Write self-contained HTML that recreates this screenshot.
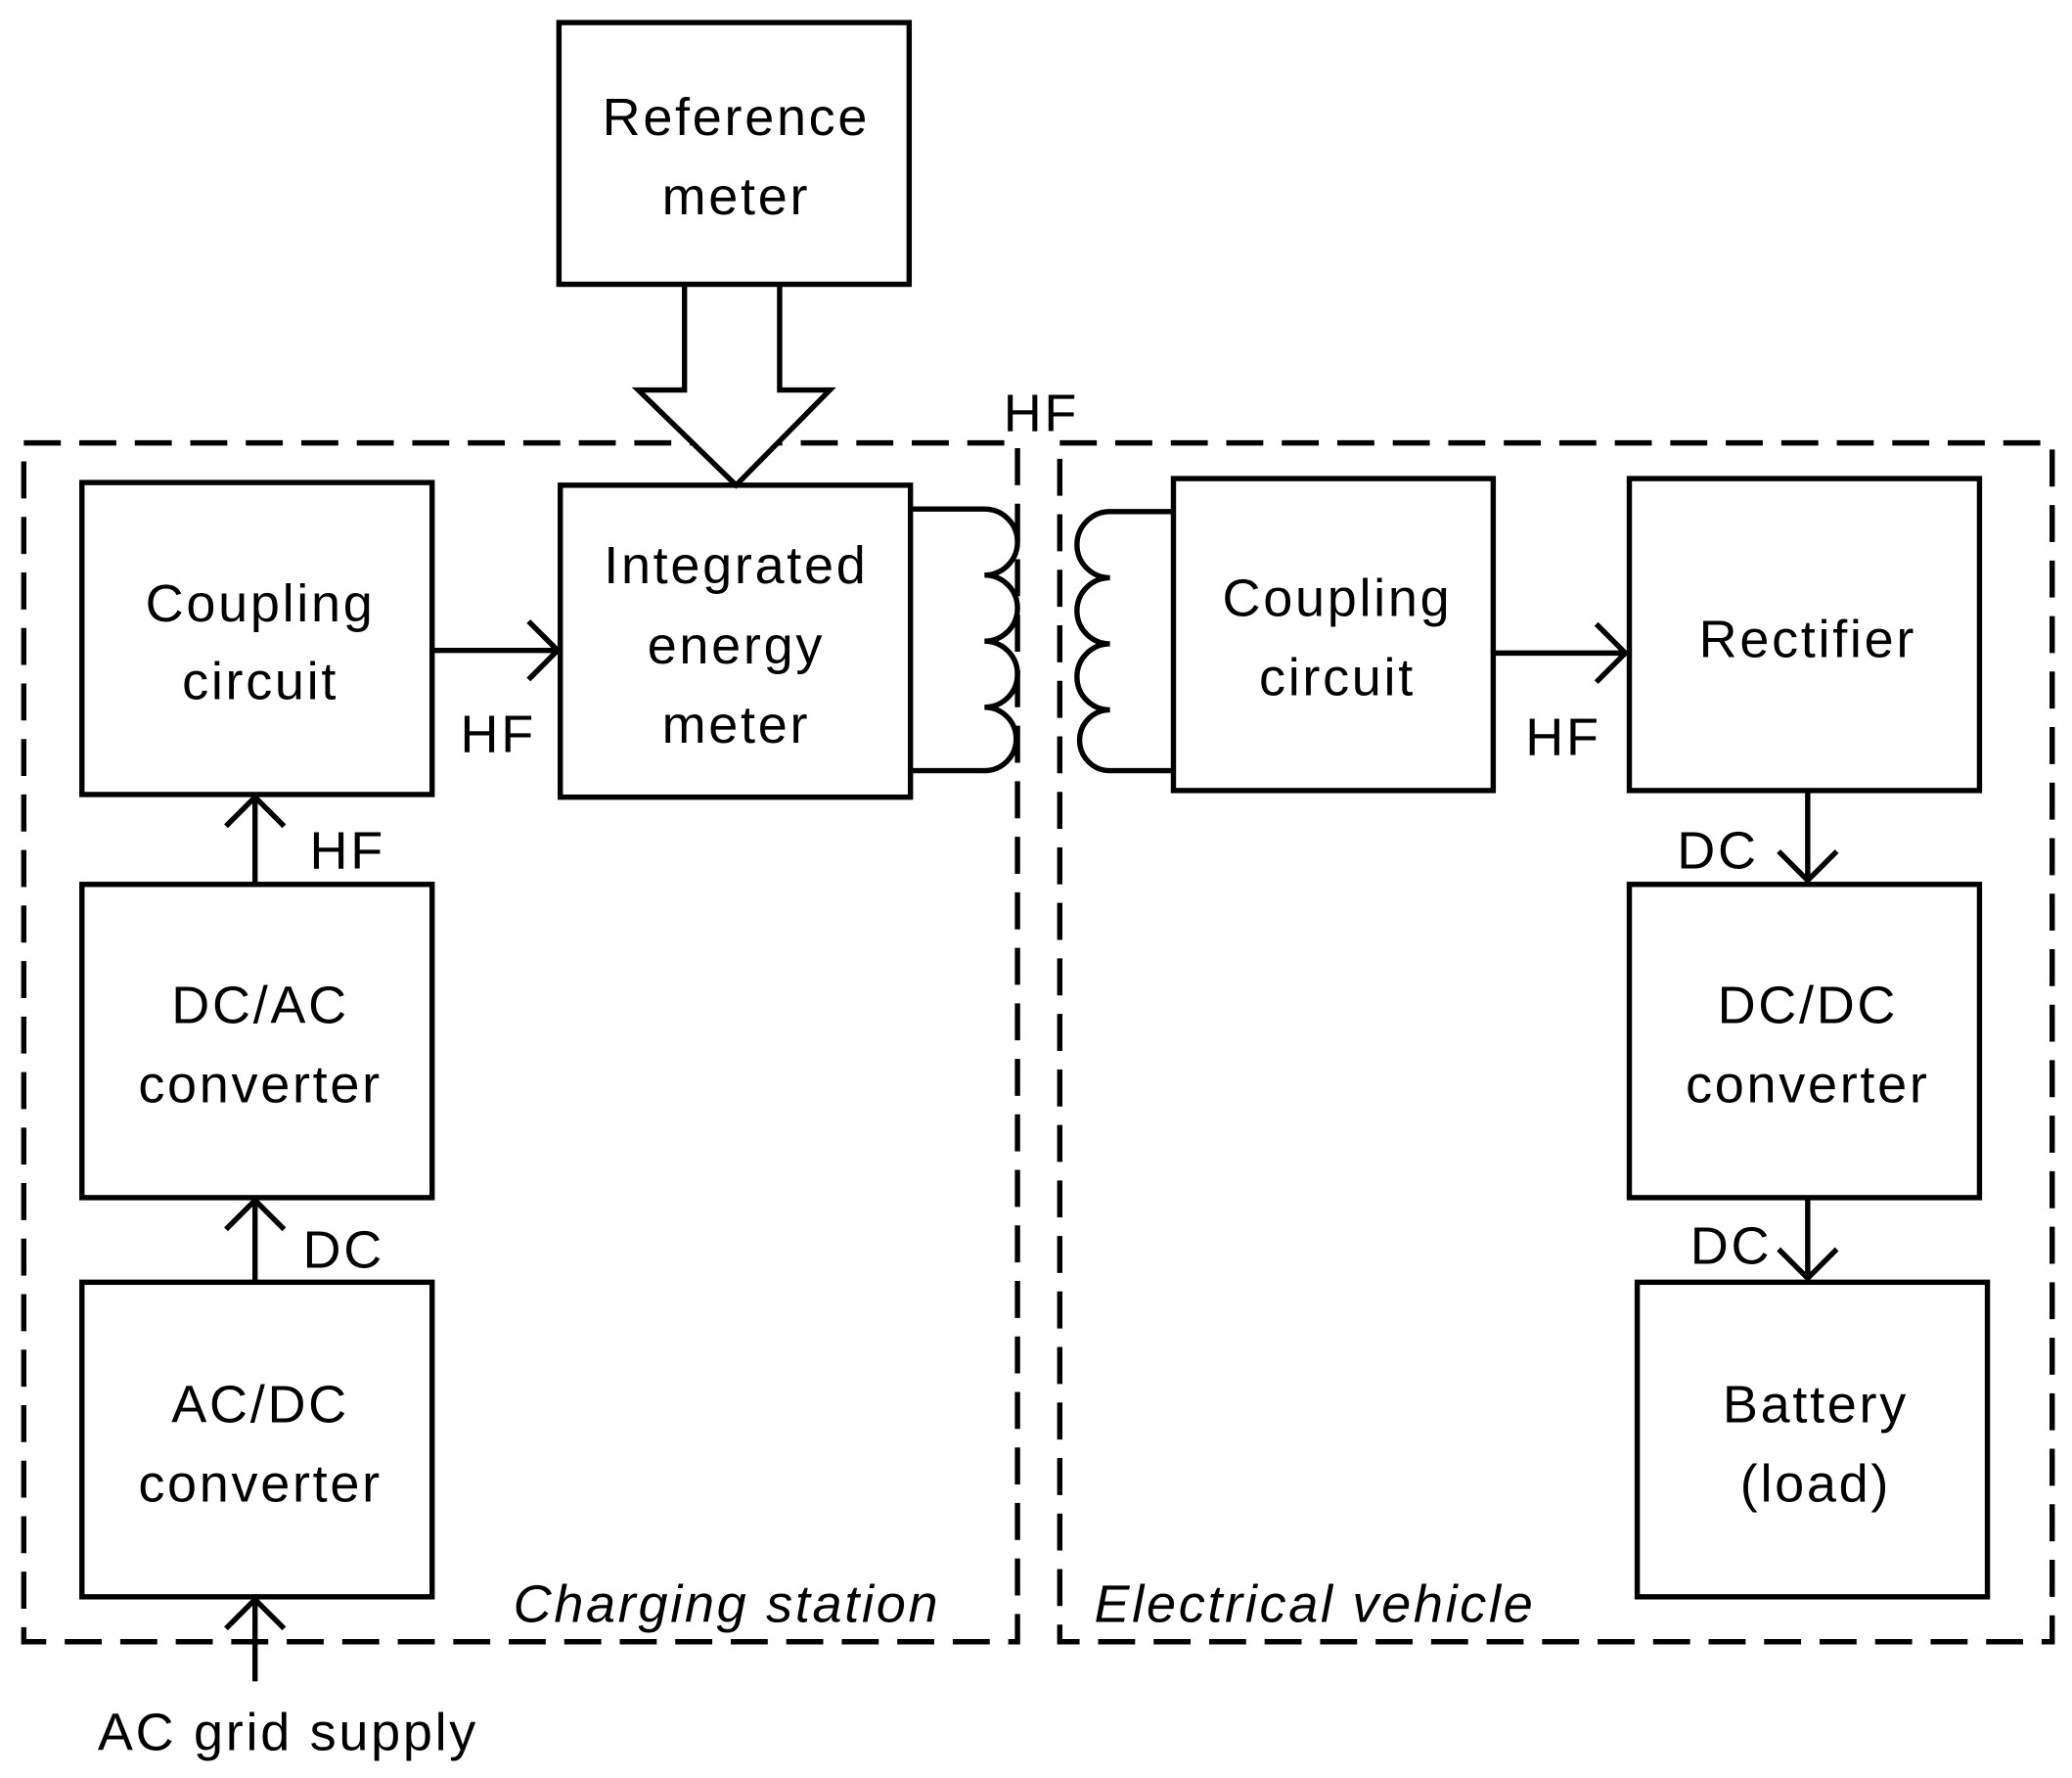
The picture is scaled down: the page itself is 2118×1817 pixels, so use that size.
<!DOCTYPE html>
<html><head><meta charset="utf-8"><style>
html,body{margin:0;padding:0;background:#fff;}
svg{display:block;}
text{font-family:"Liberation Sans",sans-serif;font-size:40px;fill:#000;text-anchor:middle;letter-spacing:2px;}
</style></head><body>
<svg width="2118" height="1817" viewBox="0 0 1568 1345" xmlns="http://www.w3.org/2000/svg">
<g fill="none" stroke="#000" stroke-width="4">
<g stroke-dasharray="28,14">
<rect x="18" y="335" width="752" height="907"/>
<rect x="802" y="335" width="751" height="907"/>
</g>
<path d="M518 215 V295 H483 L557 367 L628 295 H590 V215" fill="#fff"/>
<rect x="423" y="17" width="265" height="198"/>
<rect x="62" y="365" width="265" height="236"/>
<rect x="424" y="367" width="265" height="236"/>
<rect x="888" y="362" width="242" height="236"/>
<rect x="1233" y="362" width="265" height="236"/>
<rect x="1233" y="669" width="265" height="237"/>
<rect x="1239" y="970" width="265" height="238"/>
<rect x="62" y="669" width="265" height="237"/>
<rect x="62" y="970" width="265" height="238"/>
<path d="M689 385 H745 a25 25 0 0 1 0 50 a25 25 0 0 1 0 50 a25 25 0 0 1 0 50 a24 24 0 0 1 0 48 H689"/>
<path d="M888 387 H840 a25 25 0 0 0 0 50 a25 25 0 0 0 0 50 a25 25 0 0 0 0 50 a23 23 0 0 0 0 46 H888"/>
<path d="M327 492 H422 M400 470 L422 492 L400 514"/>
<path d="M1130 494 H1230 M1208 472 L1230 494 L1208 516"/>
<path d="M1368 598 V666 M1346 644 L1368 666 L1390 644"/>
<path d="M1368 906 V967 M1346 945 L1368 967 L1390 945"/>
<path d="M193 669 V603 M171 625 L193 603 L215 625"/>
<path d="M193 970 V908 M171 930 L193 908 L215 930"/>
<path d="M193 1272 V1210 M171 1232 L193 1210 L215 1232"/>
</g>
<text x="557" y="102">Reference</text>
<text x="557" y="162">meter</text>
<text x="788" y="326">HF</text>
<text x="197" y="470">Coupling</text>
<text x="197" y="529">circuit</text>
<text x="557" y="441">Integrated</text>
<text x="557" y="502">energy</text>
<text x="557" y="562">meter</text>
<text x="377" y="569">HF</text>
<text x="1012" y="466">Coupling</text>
<text x="1012" y="526">circuit</text>
<text x="1183" y="571">HF</text>
<text x="1368" y="497">Rectifier</text>
<text x="1300" y="657">DC</text>
<text x="1368" y="774">DC/DC</text>
<text x="1368" y="834">converter</text>
<text x="1310" y="956">DC</text>
<text x="1374" y="1076">Battery</text>
<text x="1374" y="1136">(load)</text>
<text x="263" y="657">HF</text>
<text x="197" y="774">DC/AC</text>
<text x="197" y="834">converter</text>
<text x="260" y="959">DC</text>
<text x="197" y="1076">AC/DC</text>
<text x="197" y="1136">converter</text>
<text x="218" y="1324">AC grid supply</text>
<text x="550" y="1227" font-style="italic">Charging station</text>
<text x="995" y="1227" font-style="italic">Electrical vehicle</text>
</svg>
</body></html>
